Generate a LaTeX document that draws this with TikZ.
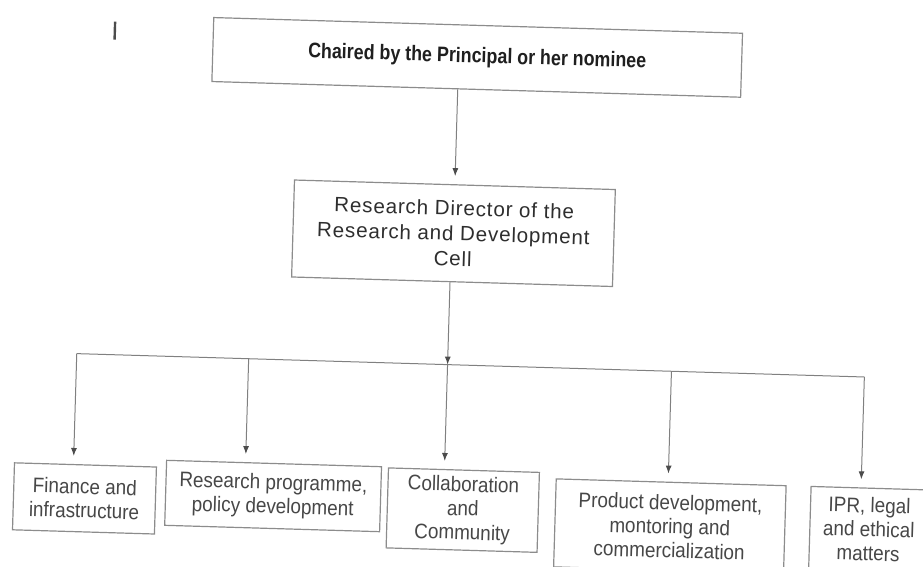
\documentclass[tikz,border=0pt]{standalone}
\usepackage{fontspec}
\setmainfont{Liberation Sans}
\newfontfamily\narrowsans[FakeStretch=0.85]{Liberation Sans}
\newfontfamily\unitsans[FakeStretch=0.9]{Liberation Sans}
\newfontfamily\widesans[LetterSpace=4]{Liberation Sans}
\usetikzlibrary{arrows.meta}

\begin{document}
\begin{tikzpicture}[x=0.5pt,y=-0.5pt,
    every node/.append style={transform shape},
    box/.style={draw=black!45,line width=0.6pt,inner sep=2pt,align=center},
    headbox/.style={box,font=\narrowsans\bfseries\fontsize{10.5}{12}\selectfont,text=black!88},
    cellbox/.style={box,font=\widesans\fontsize{10.3}{12.6}\selectfont,text=black!82},
    unitbox/.style={box,font=\unitsans\fontsize{10.5}{12}\selectfont,text=black!72},
    link/.style={draw=black!50,line width=0.5pt},
    tolink/.style={link,-{Latex[length=4pt,width=3pt,color=black!70]},shorten >=4pt},
    scanmark/.style={draw=black!70,line width=1.2pt}]
    \useasboundingbox (0,0) rectangle (923,567);
    \clip (0,0) rectangle (923,567);
    % the page is scanned a little askew
    \begin{scope}[rotate around={-1.7:(461,283)}]
        \draw[scanmark] (107.5,32) -- (107.5,50);

        \node (chair) [headbox,minimum width=264.5pt,minimum height=32pt] at (470.5,57)
            {Chaired by the Principal or her nominee};
        \node (director) [cellbox,minimum width=160.5pt,minimum height=48.5pt] at (452,233.5)
            {Research Director of the\\Research and Development\\Cell};

        \node (finance) [unitbox,minimum width=71pt,minimum height=33.5pt] at (91,509.5)
            {Finance and\\infrastructure};
        \node (programme) [unitbox,minimum width=107.5pt,minimum height=32.5pt] at (279.5,501.5)
            {Research programme,\\policy development};
        \node (community) [unitbox,minimum width=75.5pt,minimum height=40pt] at (469.5,510)
            {Collaboration\\and\\Community};
        \node (product) [unitbox,minimum width=115pt,minimum height=44pt] at (677,520)
            {Product development,\\montoring and\\commercialization};
        \node (ipr) [unitbox,minimum width=59pt,minimum height=41pt] at (876,517)
            {IPR, legal\\and ethical\\matters};

        \coordinate (hub) at (450,365);
        \coordinate (d1) at (79,365);
        \coordinate (d2) at (251,365);
        \coordinate (d3) at (450,365);
        \coordinate (d4) at (674,365);
        \coordinate (d5) at (867,365);

        \draw[tolink] (chair.south -| director.north) -- (director.north);
        \draw[tolink,shorten >=0pt] (hub |- director.south) -- (hub);
        \draw[link] (d1) -- (d5);
        \draw[tolink] (d1) -- (d1 |- finance.north);
        \draw[tolink] (d2) -- (d2 |- programme.north);
        \draw[tolink] (d3) -- (d3 |- community.north);
        \draw[tolink] (d4) -- (d4 |- product.north);
        \draw[tolink] (d5) -- (d5 |- ipr.north);
    \end{scope}
\end{tikzpicture}
\end{document}
